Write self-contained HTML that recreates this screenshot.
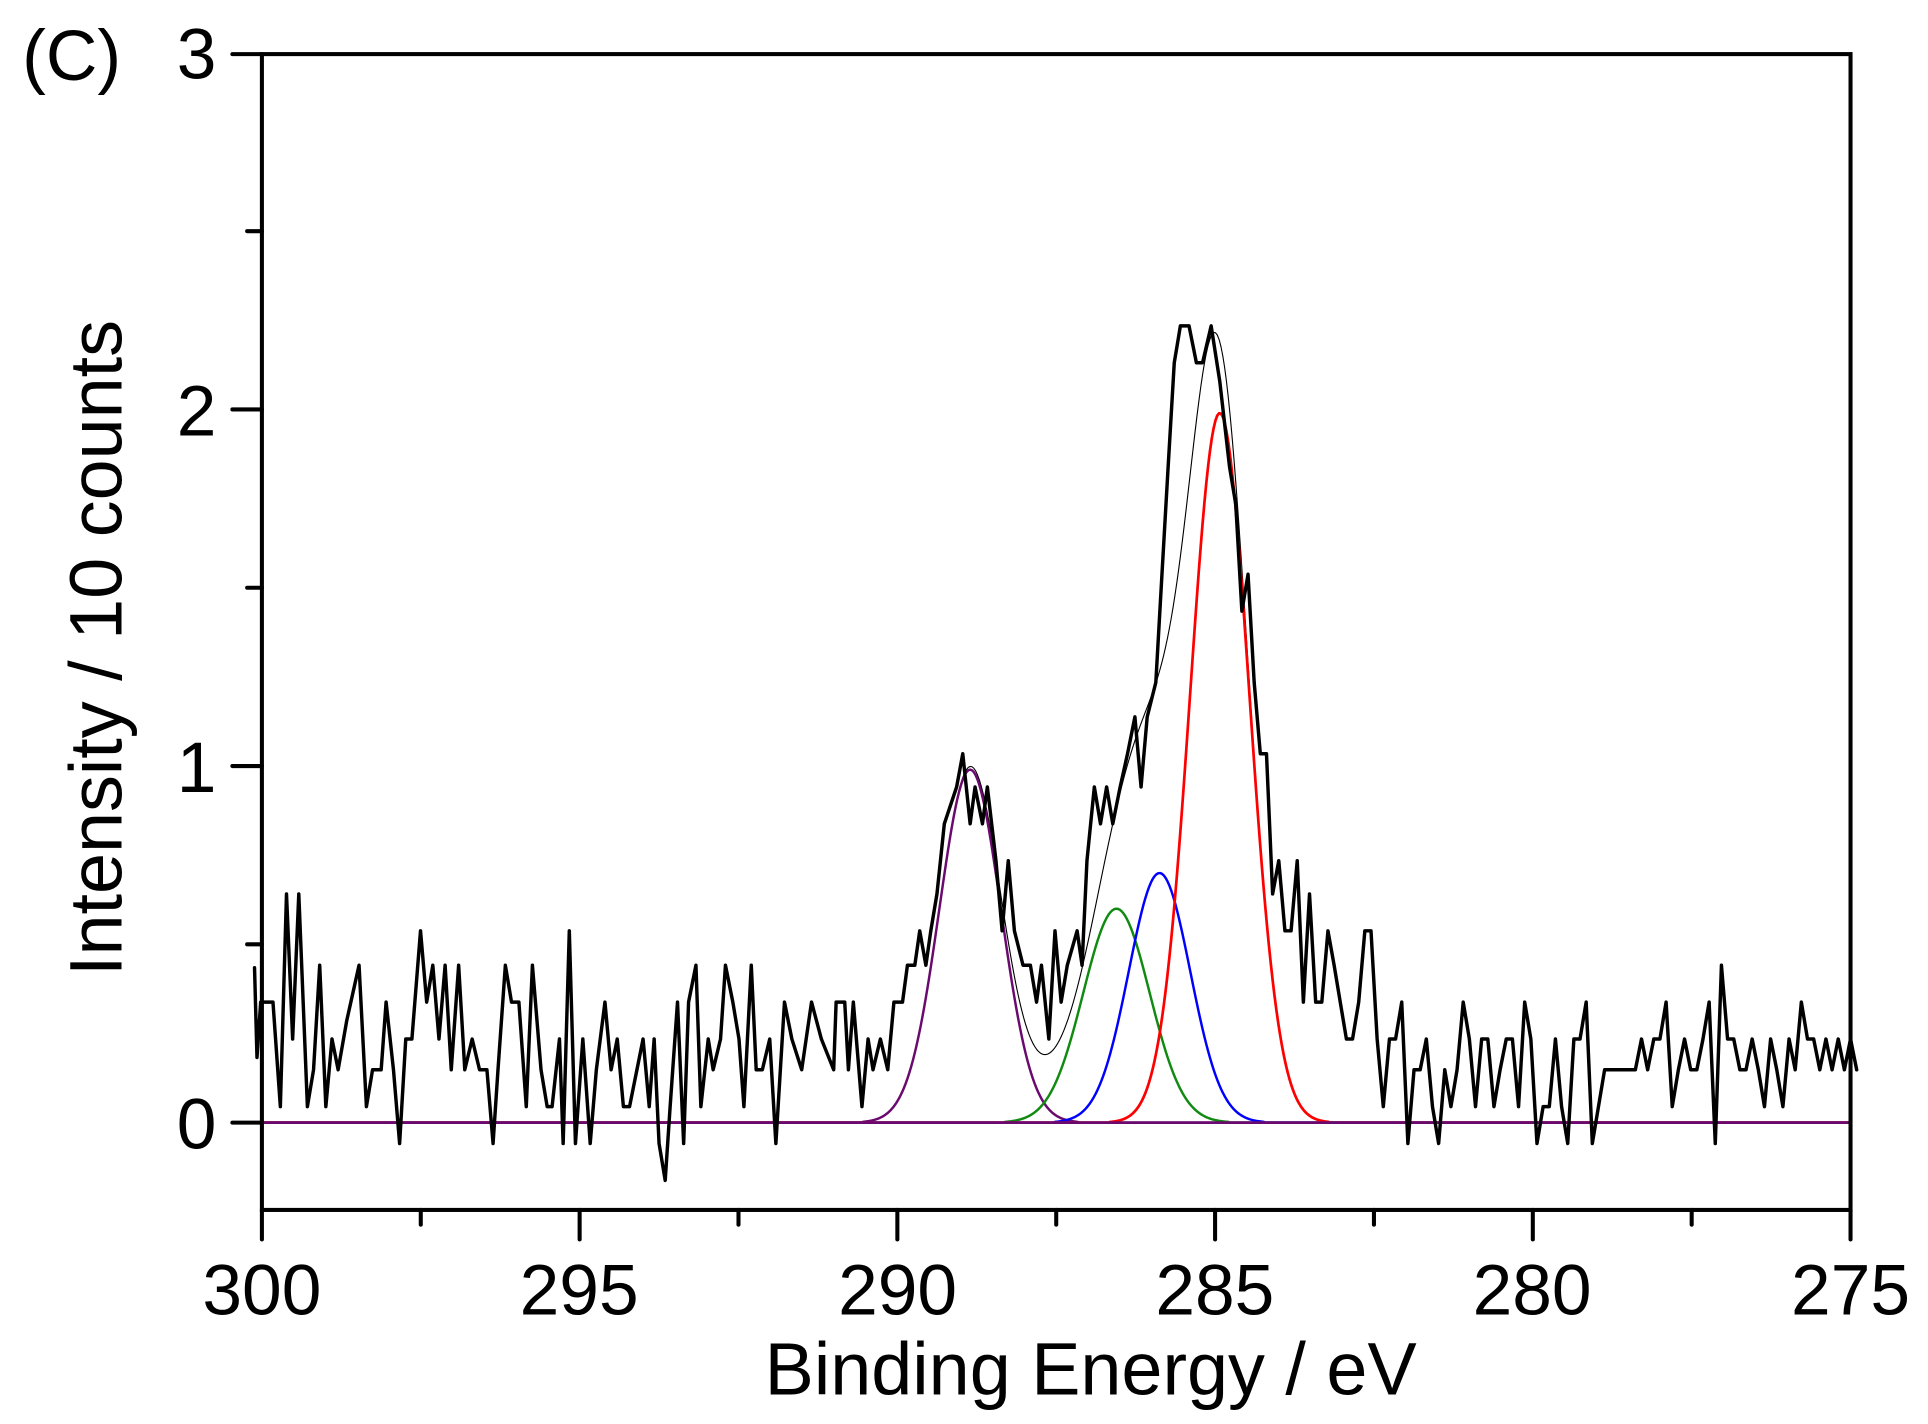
<!DOCTYPE html>
<html><head><meta charset="utf-8"><style>
html,body{margin:0;padding:0;background:#fff;}
svg{display:block;}
text{font-family:"Liberation Sans",Arial,sans-serif;fill:#000;}
</style></head><body>
<svg id="s" width="1928" height="1424" viewBox="0 0 1568 1158.1" preserveAspectRatio="none">
<g fill="none" stroke-linecap="round" stroke-linejoin="round">
<path id="env" stroke="#000" stroke-width="0.9"/>
<path id="pur" stroke="#6a0a6e" stroke-width="2"/>
<path id="grn" stroke="#118a11" stroke-width="2"/>
<path id="blu" stroke="#0000ff" stroke-width="2"/>
<path id="red" stroke="#ff0000" stroke-width="2.2"/>
<line x1="213" y1="913" x2="1505" y2="913" stroke="#6a0a6e" stroke-width="2.2"/>
<path id="dat" stroke="#000" stroke-width="2.8"/>
</g>
<g stroke="#000" stroke-width="3.3" fill="none" stroke-linecap="round">
<rect x="213" y="44" width="1292" height="940"/>
<g id="ticks"></g>
</g>
<g font-size="58">
<text x="176" y="64" text-anchor="end">3</text>
<text x="176" y="354" text-anchor="end">2</text>
<text x="176" y="644" text-anchor="end">1</text>
<text x="176" y="934" text-anchor="end">0</text>
<text x="213" y="1069" text-anchor="middle">300</text>
<text x="471" y="1069" text-anchor="middle">295</text>
<text x="730" y="1069" text-anchor="middle">290</text>
<text x="988" y="1069" text-anchor="middle">285</text>
<text x="1246" y="1069" text-anchor="middle">280</text>
<text x="1505" y="1069" text-anchor="middle">275</text>
<text x="887" y="1134" text-anchor="middle" font-size="60">Binding Energy / eV</text>
<text transform="translate(99,527) rotate(-90)" text-anchor="middle" font-size="60">Intensity / 10 counts</text>
<text x="18" y="65" font-size="58">(C)</text>
</g>
</svg>
<script>
var d=[207,787,209,860,212,815,218,815,222,815,228,900,233,727,238,845,243,727,250,900,255,870,260,785,265,900,270,845,275,870,282,830,292,785,298,900,303,870,310,870,314,815,320,870,325,930,330,845,335,845,342,757,347,815,352,785,357,845,362,785,367,870,373,785,378,870,384,845,390,870,396,870,401,930,405,870,411,785,416,815,422,815,428,900,433,785,440,870,445,900,449,900,455,845,458,930,463,757,468,930,474,845,480,930,485,870,492,815,497,870,502,845,507,900,512,900,518,870,523,845,528,900,532,845,536,930,541,960,545,900,551,815,556,930,560,815,566,785,570,900,576,845,580,870,586,845,590,785,596,815,601,845,605,900,611,785,615,870,620,870,626,845,631,930,638,815,644,845,652,870,660,815,668,845,678,870,680,815,687,815,690,870,694,815,701,900,706,845,710,870,716,845,722,870,727,815,734,815,738,785,744,785,748,757,753,785,757,757,762,727,768,670,778,640,783,613,789,670,793,640,799,670,803,640,810,700,815,757,820,700,825,757,832,785,838,785,843,815,847,785,853,845,858,757,863,815,868,785,876,757,880,785,884,700,890,640,895,670,900,640,905,670,911,640,917,613,923,583,928,640,933,583,940,555,945,467,950,380,955,295,960,265,967,265,973,295,978,295,985,265,992,310,1000,380,1005,410,1010,497,1015,467,1020,555,1025,613,1030,613,1035,727,1040,700,1045,757,1050,757,1055,700,1060,815,1065,727,1070,815,1075,815,1080,757,1085,785,1090,815,1095,845,1100,845,1105,815,1110,757,1115,757,1120,845,1125,900,1130,845,1135,845,1140,815,1145,930,1150,870,1155,870,1160,845,1165,900,1170,930,1175,870,1180,900,1185,870,1190,815,1195,845,1200,900,1205,845,1210,845,1215,900,1220,870,1225,845,1230,845,1235,900,1240,815,1245,845,1250,930,1255,900,1260,900,1265,845,1270,900,1275,930,1280,845,1285,845,1290,815,1295,930,1300,900,1305,870,1310,870,1315,870,1320,870,1325,870,1330,870,1335,845,1340,870,1345,845,1350,845,1355,815,1360,900,1365,870,1370,845,1375,870,1380,870,1385,845,1390,815,1395,930,1400,785,1405,845,1410,845,1415,870,1420,870,1425,845,1430,870,1435,900,1440,845,1445,870,1450,900,1455,845,1460,870,1465,815,1470,845,1475,845,1480,870,1485,845,1490,870,1495,845,1500,870,1505,845,1510,870];
var p="M";for(var i=0;i<d.length;i+=2)p+=(i?" L":"")+d[i]+","+d[i+1];
document.getElementById("dat").setAttribute("d",p);
function pk(c,a,s){return function(x){return a*Math.exp(-(x-c)*(x-c)/(2*s*s));};}
var P=[pk(789,0.99,25),pk(908,0.6,27),pk(943,0.7,25),pk(992,1.99,24)];
var ids=["pur","grn","blu","red"];
for(var k=0;k<4;k++){var s="M";for(var x=213;x<=1505;x+=1.5){var v=P[k](x);if(v<0.002)v=0;s+=(x>213?" L":"")+x+","+(913-290*v).toFixed(2);}document.getElementById(ids[k]).setAttribute("d",s);}
var s="M";for(var x=690;x<=1100;x+=1.5){var v=0;for(var k=0;k<4;k++)v+=P[k](x);v+=0.08*Math.exp(-(x-852)*(x-852)/(2*30*30));v+=0.14*Math.exp(-(x-972)*(x-972)/(2*22*22));s+=(x>690?" L":"")+x+","+(913-290*v).toFixed(2);}
document.getElementById("env").setAttribute("d",s);
var t="";
for(var j=0;j<=6;j++){var y=913-145*j;if(y<44)break;var L=(j%2==0)?24:12;t+='<line x1="'+(213-L)+'" y1="'+y+'" x2="213" y2="'+y+'"/>';}
t+='<line x1="189" y1="44" x2="213" y2="44"/>';
for(var j=0;j<=10;j++){var x=213+129.2*j;var L=(j%2==0)?24:12;t+='<line x1="'+x+'" y1="984" x2="'+x+'" y2="'+(984+L)+'"/>';}
document.getElementById("ticks").innerHTML=t;
</script>
</body></html>
